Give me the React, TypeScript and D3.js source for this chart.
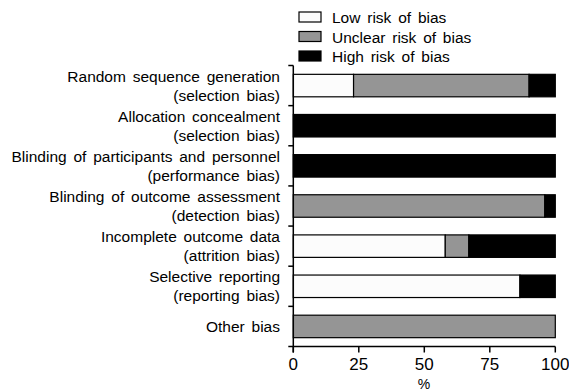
import React from "react";
import * as d3 from "d3";

// risk of bias summary, percent of studies
const domains = [
  ["Random sequence generation", "(selection bias)"],
  ["Allocation concealment", "(selection bias)"],
  ["Blinding of participants and personnel", "(performance bias)"],
  ["Blinding of outcome assessment", "(detection bias)"],
  ["Incomplete outcome data", "(attrition bias)"],
  ["Selective reporting", "(reporting bias)"],
  ["Other bias"],
];
const lowRisk = [23, 0, 0, 0, 58, 86.5, 0];
const unclearRisk = [67, 0, 0, 96, 9, 0, 100];
const highRisk = [10, 100, 100, 4, 33, 13.5, 0];

const seriesNames = ["Low risk of bias", "Unclear risk of bias", "High risk of bias"];
const seriesColors = ["#fcfcfc", "#959595", "#000000"];
const xTicks = [0, 25, 50, 75, 100];

const W = 569, H = 392;
const left = 293.3, right = 555.3, top = 65.5, bottom = 346.5;

export default function App() {
  const x = d3.scaleLinear().domain([0, 100]).range([left, right]);
  const y = d3.scaleBand<number>().domain(d3.range(domains.length)).range([top, bottom]).paddingInner(0.44).paddingOuter(0.22);
  const rows = domains.map((d, i) => ({ i, values: [lowRisk[i], unclearRisk[i], highRisk[i]] }));
  const font = "'Liberation Sans', Arial, sans-serif";
  const fs = 15.5;
  const bounds = d3.range(domains.length + 1).map(i => top + (bottom - top) * i / domains.length);

  return (
    <svg width={W} height={H} style={{ position: "absolute", left: 0, top: 0, background: "#fff" }}
      fontFamily={font}>
      {/* legend */}
      {seriesNames.map((n, k) => (
        <g key={n} transform={`translate(299,${12 + k * 19.5})`}>
          <rect x={0} y={0} width={22} height={10} fill={seriesColors[k]} stroke="#000" strokeWidth={1.2} />
          <text x={33} y={11} fontSize={fs} wordSpacing={2.5}>{n}</text>
        </g>
      ))}
      {/* bars */}
      {rows.map(r => {
        let acc = 0;
        return r.values.map((v, k) => {
          const x0 = acc;
          acc += v;
          if (v <= 0) return null;
          return <rect key={`${r.i}-${k}`} x={x(x0)} y={y(r.i)!} width={x(x0 + v) - x(x0)} height={y.bandwidth()}
            fill={seriesColors[k]} stroke="#000" strokeWidth={1.2} />;
        });
      })}
      {/* y axis */}
      <line x1={left} x2={left} y1={top} y2={bottom + 6} stroke="#000" strokeWidth={1.5} />
      {bounds.map((b, i) => (
        <line key={i} x1={left - 5} x2={left} y1={b} y2={b} stroke="#000" strokeWidth={1.5} />
      ))}
      {domains.map((lines, i) => {
        const cy = y(i)! + y.bandwidth() / 2;
        const lh = 19;
        const y0 = cy - (lines.length - 1) * lh / 2 + 5.5;
        return lines.map((t, j) => (
          <text key={`${i}-${j}`} x={280} y={y0 + j * lh} textAnchor="end" fontSize={fs} wordSpacing={2.5}>{t}</text>
        ));
      })}
      {/* x axis */}
      <line x1={left} x2={right} y1={bottom} y2={bottom} stroke="#000" strokeWidth={1.5} />
      {xTicks.map(t => (
        <g key={t}>
          <line x1={x(t)} x2={x(t)} y1={bottom} y2={bottom + 6} stroke="#000" strokeWidth={1.5} />
          <text x={x(t)} y={370} textAnchor="middle" fontSize={17}>{t}</text>
        </g>
      ))}
      <text x={424} y={389} textAnchor="middle" fontSize={14}>%</text>
    </svg>
  );
}
